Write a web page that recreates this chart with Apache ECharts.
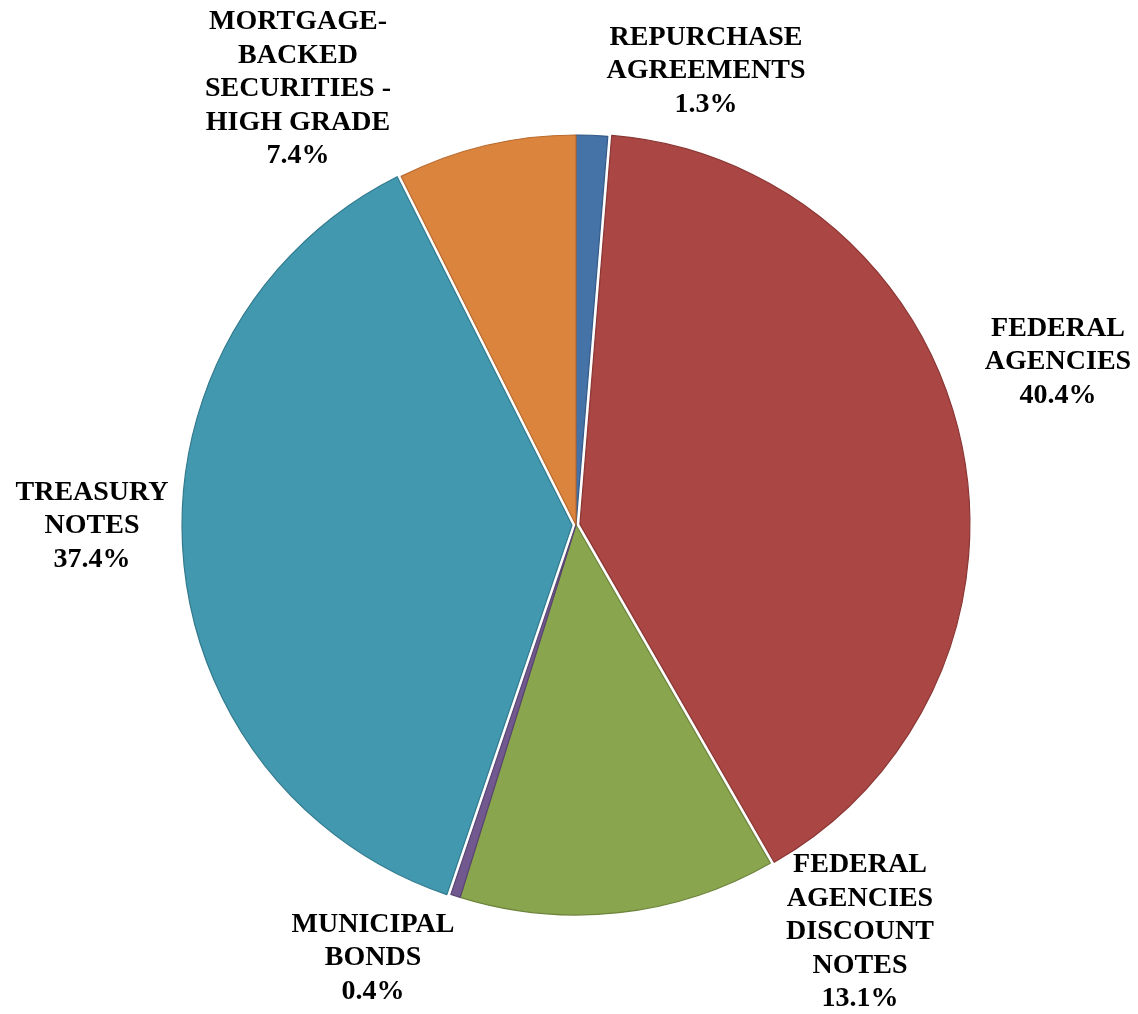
<!DOCTYPE html>
<html>
<head>
<meta charset="utf-8">
<script src="https://cdn.jsdelivr.net/npm/echarts@6/dist/echarts.min.js"></script>
<style>
html,body{margin:0;padding:0;background:#fff;}
#chart{width:1138px;height:1014px;}
</style>
</head>
<body>
<div id="chart"></div>
<script>
// ---- data ----
var categories = [
  'REPURCHASE\nAGREEMENTS',
  'FEDERAL\nAGENCIES',
  'FEDERAL\nAGENCIES\nDISCOUNT\nNOTES',
  'MUNICIPAL\nBONDS',
  'TREASURY\nNOTES',
  'MORTGAGE-\nBACKED\nSECURITIES -\nHIGH GRADE'
];
var values = [1.3, 40.4, 13.1, 0.4, 37.4, 7.4];

// ---- styles ----
var fillColors   = ['#4572A7', '#AA4643', '#89A54E', '#71588F', '#4198AF', '#DB843D'];
var borderColors = ['#355A86', '#8A3634', '#6E853D', '#5A4572', '#327A8D', '#B86A2E'];
var exploded     = [false, true, false, false, true, false];
// label anchor points (layout only): [x, y] of label centre in px
var labelAnchors = [[706, 71], [1058, 362], [860, 932], [373, 958], [92, 526], [298, 89]];

var PIE_CENTER = [576, 525];
var PIE_RADIUS = 390;

var chart = echarts.init(document.getElementById('chart'));

var sliceData = categories.map(function (c, i) {
  return {
    name: c,
    value: values[i],
    selected: exploded[i],
    itemStyle: { color: fillColors[i], borderColor: borderColors[i], borderWidth: 1.2 }
  };
});
var labelData = categories.map(function (c, i) {
  return { name: c, value: values[i] };
});

chart.setOption({
  animation: false,
  backgroundColor: '#ffffff',
  series: [{
    type: 'pie',
    center: PIE_CENTER,
    radius: [0, PIE_RADIUS],
    startAngle: 90,
    clockwise: true,
    selectedMode: 'multiple',
    selectedOffset: 4,
    silent: true,
    emphasis: { disabled: true },
    data: sliceData,
    label: { show: false },
    labelLine: { show: false }
  }, {
    type: 'pie',
    center: PIE_CENTER,
    radius: [0, PIE_RADIUS],
    startAngle: 90,
    clockwise: true,
    silent: true,
    avoidLabelOverlap: false,
    emphasis: { disabled: true },
    itemStyle: { color: 'rgba(0,0,0,0)', borderWidth: 0 },
    data: labelData,
    label: {
      show: true,
      position: 'outside',
      formatter: function (p) { return p.name + '\n' + p.value.toFixed(1) + '%'; },
      fontFamily: '"Liberation Serif", "Times New Roman", serif',
      fontWeight: 'bold',
      fontSize: 28,
      lineHeight: 33.5,
      color: '#000',
      align: 'center'
    },
    labelLine: { show: false },
    labelLayout: function (p) {
      var a = labelAnchors[p.dataIndex];
      return { x: a[0], y: a[1], align: 'center', verticalAlign: 'middle' };
    }
  }]
});
</script>
</body>
</html>
